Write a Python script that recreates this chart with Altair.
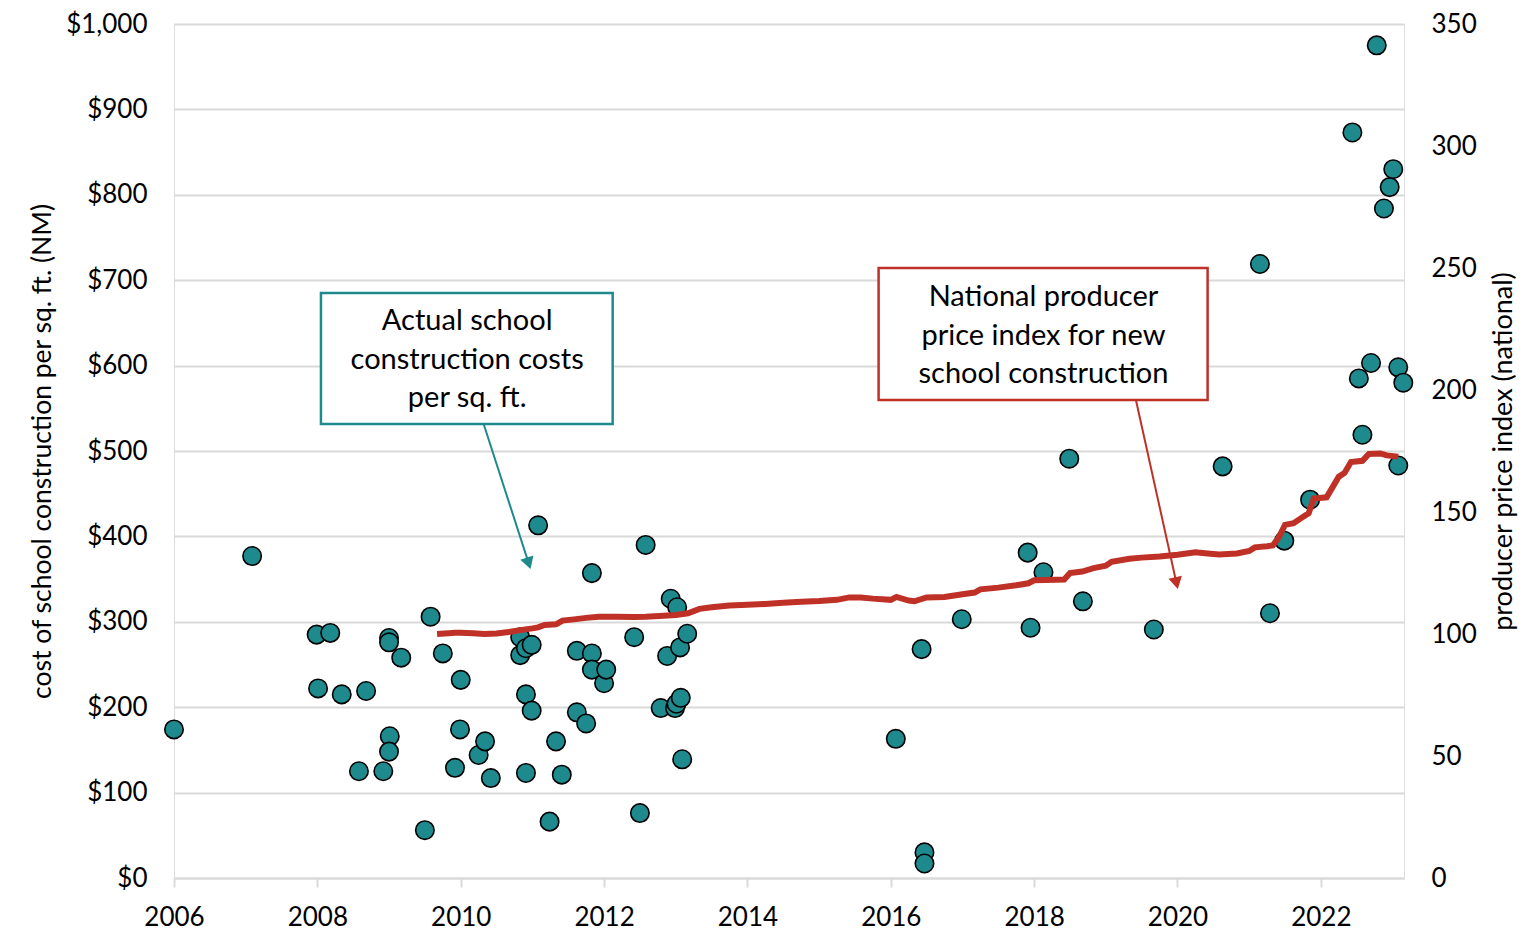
import altair as alt
import pandas as pd

# ---- data ----
cost_year = [2006.00, 2007.09, 2007.99, 2008.18, 2008.01, 2008.34, 2008.68, 2008.58, 2008.92,
             2009.00, 2009.00, 2009.17, 2009.01, 2009.00, 2009.50, 2009.58, 2009.75, 2010.00,
             2009.99, 2009.92, 2010.25, 2010.34, 2010.42, 2010.83, 2010.83, 2010.91, 2010.99,
             2010.91, 2010.99, 2010.91, 2011.08, 2011.24, 2011.33, 2011.41, 2011.62, 2011.62,
             2011.75, 2011.83, 2011.83, 2011.83, 2012.00, 2012.03, 2012.42, 2012.50, 2012.58,
             2012.79, 2012.88, 2012.93, 2013.02, 2012.99, 2013.01, 2013.07, 2013.06, 2013.16,
             2013.09,
             2016.07, 2016.43, 2016.47, 2016.47, 2016.99, 2017.91, 2017.95, 2018.13, 2018.49,
             2018.68, 2019.67, 2020.63, 2021.15, 2021.29, 2021.49, 2021.85, 2022.44, 2022.53,
             2022.58, 2022.70, 2022.78, 2022.88, 2022.96, 2023.01, 2023.08, 2023.08, 2023.15]
cost_value = [174, 377, 285, 287, 222, 215, 219, 125, 125,
              281, 276, 258, 166, 148, 56, 306, 263, 232,
              174, 129, 144, 160, 117, 282, 261, 269, 273,
              215, 196, 123, 413, 66, 160, 121, 194, 266,
              181, 357, 263, 244, 228, 244, 282, 76, 390,
              199, 260, 327, 317, 199, 204, 211, 270, 286,
              139,
              163, 268, 30, 17, 303, 381, 293, 358, 491,
              324, 291, 482, 719, 310, 395, 443, 873, 585,
              519, 603, 975, 784, 809, 830, 598, 483, 580]

ppi_year = [2009.67, 2009.83, 2009.92, 2010.00, 2010.17, 2010.33, 2010.50, 2010.67, 2010.83,
            2011.00, 2011.08, 2011.17, 2011.33, 2011.42, 2011.58, 2011.75, 2011.92, 2012.17,
            2012.42, 2012.58, 2012.83, 2013.00, 2013.17, 2013.33, 2013.50, 2013.75, 2014.00,
            2014.25, 2014.50, 2014.75, 2015.00, 2015.25, 2015.42, 2015.58, 2015.75, 2016.00,
            2016.08, 2016.25, 2016.33, 2016.50, 2016.75, 2017.00, 2017.17, 2017.25, 2017.50,
            2017.75, 2017.92, 2018.00, 2018.30, 2018.42, 2018.50, 2018.67, 2018.83, 2019.00,
            2019.08, 2019.33, 2019.50, 2019.75, 2020.00, 2020.25, 2020.42, 2020.58, 2020.83,
            2021.00, 2021.08, 2021.25, 2021.33, 2021.42, 2021.50, 2021.62, 2021.75, 2021.83,
            2021.90, 2022.08, 2022.25, 2022.33, 2022.42, 2022.58, 2022.67, 2022.83, 2022.92,
            2023.08]
ppi_value = [100.0, 100.3, 100.5, 100.5, 100.3, 100.0, 100.2, 100.8, 101.6,
             102.3, 102.7, 103.7, 104.0, 105.5, 106.0, 106.6, 107.1, 107.1,
             107.0, 107.1, 107.5, 107.8, 108.5, 110.3, 111.0, 111.7, 112.0,
             112.3, 112.8, 113.2, 113.5, 114.0, 115.0, 115.0, 114.5, 114.0,
             115.2, 113.7, 113.4, 115.0, 115.2, 116.3, 117.0, 118.3, 119.0,
             120.0, 120.8, 122.0, 122.2, 122.3, 125.0, 125.6, 127.0, 128.0,
             129.6, 130.8, 131.3, 131.8, 132.5, 133.5, 133.0, 132.6, 133.0,
             134.0, 135.5, 136.0, 136.3, 140.0, 144.7, 145.4, 148.0, 149.5,
             155.5, 156.0, 164.5, 166.0, 170.5, 171.0, 173.8, 174.0, 173.2,
             172.7]

x_ticks = [2006, 2008, 2010, 2012, 2014, 2016, 2018, 2020, 2022]
left_ticks = [0, 100, 200, 300, 400, 500, 600, 700, 800, 900, 1000]
right_ticks = [0, 50, 100, 150, 200, 250, 300, 350]

# annotation boxes (in data units: year / $ per sq. ft.)
box_names = ["cost", "ppi"]
box_x = [2008.05, 2015.83]
box_x2 = [2012.12, 2020.42]
box_y = [531.6, 559.7]
box_y2 = [685.0, 714.3]
box_text = ["Actual school\nconstruction costs\nper sq. ft.",
            "National producer\nprice index for new\nschool construction"]
box_text_x = [2010.09, 2018.13]
box_text_y = [652.2, 680.3]
arrow_x = [2010.32, 2019.42]
arrow_y = [531.6, 559.7]
arrow_x2 = [2010.94, 2019.98]
arrow_y2 = [370.8, 347.5]
arrow_angle = [162.3, 167.4]

TEAL = "#1f8a8e"
RED = "#bf3127"
FONT = "Lato"

pts = pd.DataFrame({"year": cost_year, "cost": cost_value})
ppi = pd.DataFrame({"year": ppi_year, "ppi": ppi_value})
boxes = pd.DataFrame({"name": box_names, "year": box_x, "year2": box_x2,
                      "cost": box_y, "cost2": box_y2, "label": box_text,
                      "tx": box_text_x, "ty": box_text_y,
                      "ax": arrow_x, "ay": arrow_y, "ax2": arrow_x2, "ay2": arrow_y2,
                      "ang": arrow_angle})

xscale = alt.Scale(domain=[2006, 2023.16], nice=False, zero=False)
yscale = alt.Scale(domain=[0, 1000], nice=False)
rscale = alt.Scale(domain=[0, 350], nice=False)

x_axis = alt.Axis(values=x_ticks, format="d", grid=False, domainColor="#d9d9d9",
                  domainWidth=2, tickColor="#d9d9d9", tickWidth=2, tickSize=9,
                  labelFont=FONT, labelFontSize=26, labelColor="#000000",
                  labelPadding=17, title=None, labelFlush=False)
left_axis = alt.Axis(values=left_ticks, format="$,.0f", grid=True, gridColor="#d9d9d9",
                     gridWidth=2, domain=False, ticks=False, labelPadding=27,
                     labelFont=FONT, labelFontSize=26, labelColor="#000000",
                     title="cost of school construction per sq. ft. (NM)",
                     titleFont=FONT, titleFontSize=26.5, titleFontWeight="normal",
                     titleColor="#000000", titleAngle=270, titleX=-132, titleY=427,
                     titleAlign="center", titleBaseline="middle")
right_axis = alt.Axis(orient="right", values=right_ticks, format="d", grid=False,
                      domain=False, ticks=False, labelPadding=27,
                      labelFont=FONT, labelFontSize=26, labelColor="#000000",
                      title="producer price index (national)",
                      titleFont=FONT, titleFontSize=27, titleFontWeight="normal",
                      titleColor="#000000", titleAngle=270, titleX=99, titleY=427,
                      titleAlign="center", titleBaseline="middle")

X = alt.X("year:Q", scale=xscale, axis=x_axis)
Y = alt.Y("cost:Q", scale=yscale, axis=left_axis)

points = alt.Chart(pts).mark_circle(size=340, color=TEAL, opacity=1,
                                    stroke="#000000", strokeWidth=1.6,
                                    clip=False).encode(x=X, y=Y)

rects = alt.Chart(boxes).mark_rect(fill="white", strokeWidth=2.5).encode(
    x=X, x2="year2:Q", y=Y, y2="cost2:Q",
    stroke=alt.Stroke("name:N", scale=alt.Scale(domain=box_names, range=[TEAL, RED]),
                      legend=None))

texts = alt.Chart(boxes).mark_text(font=FONT, fontSize=29, color="#000000",
                                   align="center", baseline="middle",
                                   lineBreak="\n", lineHeight=38.5).encode(
    x=alt.X("tx:Q", scale=xscale, axis=x_axis),
    y=alt.Y("ty:Q", scale=yscale, axis=left_axis),
    text="label:N")

arrows = alt.Chart(boxes).mark_rule(strokeWidth=2).encode(
    x=alt.X("ax:Q", scale=xscale, axis=x_axis), x2="ax2:Q",
    y=alt.Y("ay:Q", scale=yscale, axis=left_axis), y2="ay2:Q",
    color=alt.Color("name:N", scale=alt.Scale(domain=box_names, range=[TEAL, RED]),
                    legend=None))

heads = alt.Chart(boxes).mark_point(shape="triangle", size=190, filled=True,
                                    opacity=1).encode(
    x=alt.X("ax2:Q", scale=xscale, axis=x_axis),
    y=alt.Y("ay2:Q", scale=yscale, axis=left_axis),
    angle=alt.Angle("ang:Q", scale=None),
    color=alt.Color("name:N", scale=alt.Scale(domain=box_names, range=[TEAL, RED]),
                    legend=None))

left_layer = alt.layer(points, rects, texts, arrows, heads)

line = alt.Chart(ppi).mark_line(color=RED, strokeWidth=6, strokeJoin="miter").encode(
    x=X, y=alt.Y("ppi:Q", scale=rscale, axis=right_axis))

chart = alt.layer(left_layer, line).resolve_scale(y="independent", color="independent",
                                                  stroke="independent").properties(
    width=1230, height=854,
    autosize=alt.AutoSizeParams(type="none"),
    padding={"left": 166, "top": 16, "right": 125, "bottom": 56},
).configure_view(stroke=None).configure(background="white")

chart.save("out.html", embed_options={"renderer": "svg", "actions": False})
